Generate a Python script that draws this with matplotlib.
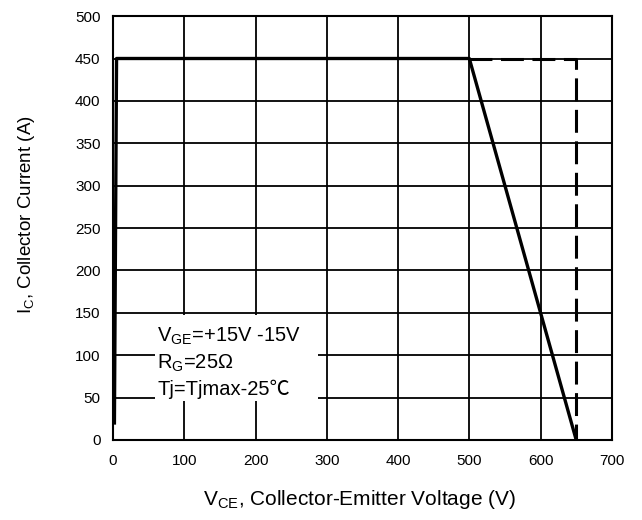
import numpy as np
import matplotlib
matplotlib.use("Agg")
import matplotlib.pyplot as plt
from matplotlib.patches import Rectangle

plt.rcParams['font.family'] = ['Liberation Sans', 'DejaVu Sans', 'Noto Sans CJK SC']
plt.rcParams['mathtext.fontset'] = 'custom'
plt.rcParams['mathtext.rm'] = 'Liberation Sans'

# RBSOA limit (solid) and rated limit (dashed)
vce_soa = [2, 5, 500, 650]
ic_soa = [20, 450, 450, 0]
vce_rated = [500, 650, 650]
ic_rated = [450, 450, 0]

x_ticks = [0, 100, 200, 300, 400, 500, 600, 700]
y_ticks = [0, 50, 100, 150, 200, 250, 300, 350, 400, 450, 500]

notes = [r'V$_{\mathregular{GE}}$=+15V -15V',
         r'R$_{\mathregular{G}}$=25Ω',
         'Tj=Tjmax-25℃']
note_y = [115.5, 83.5, 53]

fig = plt.figure(figsize=(6.42, 5.2), dpi=100)
ax = fig.add_axes([0.176, 0.154, 0.777, 0.815])

ax.plot(vce_rated, ic_rated, color='black', lw=2.2, dashes=(7.5, 2.8), zorder=3)
ax.plot(vce_soa, ic_soa, color='black', lw=2.4, zorder=4)

ax.set_xlim(0, 700)
ax.set_ylim(0, 500)
ax.set_xticks(x_ticks)
ax.set_yticks(y_ticks)
ax.tick_params(length=0, labelsize=11)
ax.tick_params(axis='x', pad=10)
ax.tick_params(axis='y', pad=9)
ax.grid(True, color='black', lw=1.3)
for s in ax.spines.values():
    s.set_linewidth(1.5)

ax.set_xlabel(r'V$_{\mathregular{CE}}$, Collector-Emitter Voltage (V)', fontsize=15)
ax.set_ylabel(r'I$_{\mathregular{C}}$, Collector Current (A)', fontsize=13.5)
ax.xaxis.set_label_coords(0.494, -0.113)
ax.yaxis.set_label_coords(-0.152, 0.531)

# white patch behind the conditions text
ax.add_patch(Rectangle((59, 46), 229, 101, facecolor='white', edgecolor='none', zorder=2.5))
for txt, yy in zip(notes, note_y):
    ax.text(62, yy, txt, fontsize=14.5, va='baseline', ha='left', zorder=5,
            family=['Liberation Sans', 'Noto Sans CJK SC', 'DejaVu Sans'])

fig.savefig('out.png', dpi=100)
